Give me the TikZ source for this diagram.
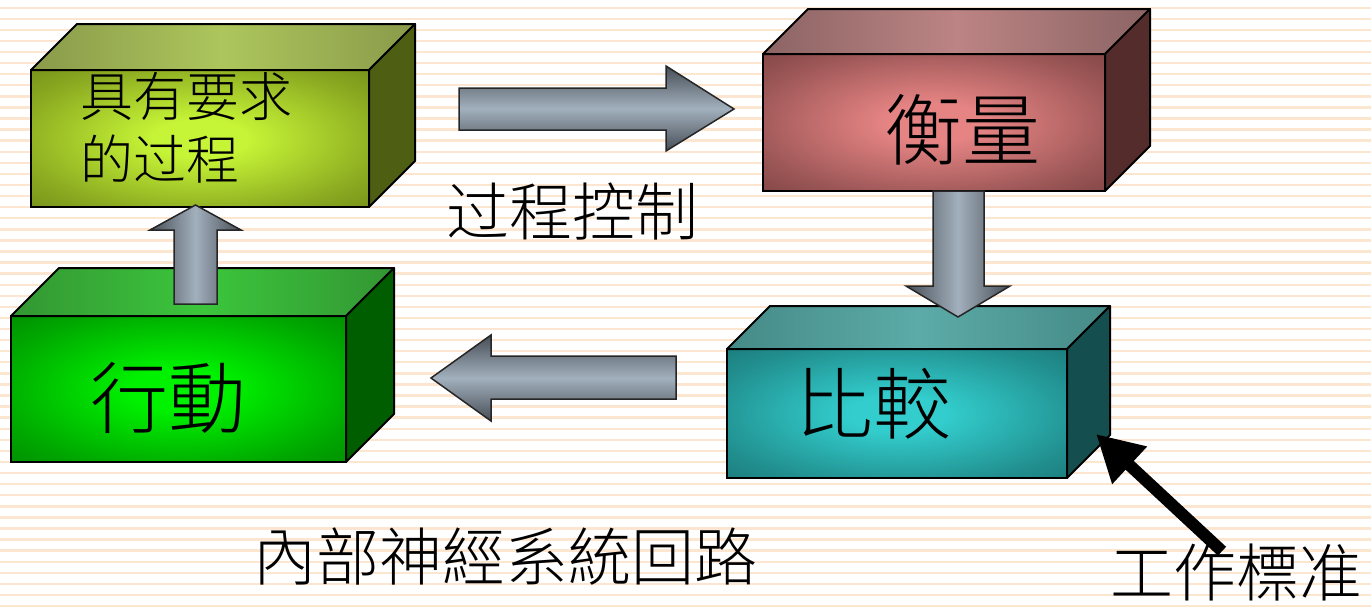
\documentclass[tikz,border=0pt]{standalone}
\usepackage{fontspec}
\newfontfamily\cjk[UprightFont={* Light}]{Noto Sans CJK TC}
\usetikzlibrary{arrows.meta}

\definecolor{stripecol}{HTML}{FDE6CF}
\definecolor{arrowdark}{HTML}{474E56}
\definecolor{arrowlight}{HTML}{A2B0BD}
% box colours: front outer, front inner, top, top light, side
\definecolor{oliveout}{HTML}{627612}
\definecolor{olivein}{HTML}{C6F436}
\definecolor{olivetop}{HTML}{8A9A4A}
\definecolor{olivetopl}{HTML}{ADC65C}
\definecolor{oliveside}{HTML}{4E5F13}
\definecolor{greenout}{HTML}{007400}
\definecolor{greenin}{HTML}{00F200}
\definecolor{greentop}{HTML}{339633}
\definecolor{greentopl}{HTML}{3CC63C}
\definecolor{greenside}{HTML}{005E00}
\definecolor{redout}{HTML}{683636}
\definecolor{redin}{HTML}{E68484}
\definecolor{redtop}{HTML}{8C6464}
\definecolor{redtopl}{HTML}{BC8484}
\definecolor{redside}{HTML}{552C2C}
\definecolor{tealout}{HTML}{166666}
\definecolor{tealin}{HTML}{33CDCD}
\definecolor{tealtop}{HTML}{458A87}
\definecolor{tealtopl}{HTML}{5CABA8}
\definecolor{tealside}{HTML}{154E4E}

% glow of a front face, wide bright centre
\colorlet{boxin}{white}
\colorlet{boxout}{black}
\pgfdeclareradialshading[boxin,boxout]{boxglow}{\pgfpoint{0bp}{0bp}}{%
  color(0bp)=(boxin); color(7bp)=(boxin);
  color(28bp)=(boxin!40!boxout); color(46bp)=(boxout); color(70bp)=(boxout)}

% top and right faces of a box, from the front node
\newcommand{\cubefaces}[5]{%
  \draw[face, left color=#3, right color=#3, middle color=#4]
    (#1.north west) -- ++(#2,-#2) -- ([shift={(#2,-#2)}]#1.north east)
    -- (#1.north east) -- cycle;
  \draw[face, fill=#5]
    (#1.north east) -- ++(#2,-#2) -- ([shift={(#2,-#2)}]#1.south east)
    -- (#1.south east) -- cycle;
}

\begin{document}
\begin{tikzpicture}[x=1pt, y=-1pt,
    front/.style 2 args={draw, line width=2pt, outer sep=0pt, inner sep=0pt,
      /utils/exec={\colorlet{boxin}{#1}\colorlet{boxout}{#2}}, shading=boxglow},
    face/.style={draw, line width=2pt, line join=round},
    blockarrow/.style={draw=black!85, line width=1.5pt, top color=arrowdark,
      bottom color=arrowdark, middle color=arrowlight},
    boxtext/.style={font=\cjk\fontsize{78}{80}\selectfont, inner sep=0pt},
    labeltext/.style={font=\cjk\fontsize{63}{70}\selectfont, inner sep=0pt}]

    \useasboundingbox (0,0) rectangle (1371,606);
    \fill[white] (0,0) rectangle (1371,606);
    \foreach \i in {0,...,54}
        \draw[stripecol, line width=2.4pt] (0,{7.7+11.08*\i}) -- (1371,{7.7+11.08*\i});

    % boxes
    \node (proc) at (200,138.5) [front={olivein}{oliveout},
        minimum width=338, minimum height=137] {};
    \cubefaces{proc}{46}{olivetop}{olivetopl}{oliveside}
    \node (act) at (178.5,389) [front={greenin}{greenout},
        minimum width=335, minimum height=146] {};
    \cubefaces{act}{48}{greentop}{greentopl}{greenside}
    \node (meas) at (934,122.5) [front={redin}{redout},
        minimum width=342, minimum height=137] {};
    \cubefaces{meas}{45}{redtop}{redtopl}{redside}
    \node (cmp) at (897,413.5) [front={tealin}{tealout},
        minimum width=340, minimum height=129] {};
    \cubefaces{cmp}{43}{tealtop}{tealtopl}{tealside}

    % box texts
    \node (proctext) at (80,72) [anchor=north west, align=left, inner sep=0pt,
        font=\cjk\fontsize{53}{63}\selectfont] {具有要求\\的过程};
    \node (acttext) at (168,398) [boxtext] {行動};
    \node (meastext) at (962,130) [boxtext] {衡量};
    \node (cmptext) at (873,404) [boxtext] {比較};

    % block arrows
    \draw[blockarrow] (459,88) -- (666,88) -- (666,66) -- (734,109)
        -- (666,151) -- (666,130) -- (459,130) -- cycle;
    \draw[blockarrow, shading angle=90] (174,304) -- (174,230) -- (150,230)
        -- (195.5,205) -- (241,230) -- (217,230) -- (217,304) -- cycle;
    \draw[blockarrow, shading angle=90] (933,191) -- (984,191) -- (984,286)
        -- (1010,286) -- (958,317) -- (906,286) -- (933,286) -- cycle;
    \draw[blockarrow] (676,356) -- (491,356) -- (491,335) -- (431,378)
        -- (491,421) -- (491,399) -- (676,399) -- cycle;

    % labels
    \node (ctrl) at (572,212) [labeltext] {过程控制};
    \node (loop) at (505,557) [labeltext] {內部神經系統回路};
    \node (std) at (1236,573) [labeltext] {工作標准};

    \coordinate (stdtip) at (1096,434);
    \draw[line width=12pt, -{Triangle[length=46pt, width=48pt]}]
        ([shift={(-14,7)}]std.north) -- (stdtip);
\end{tikzpicture}
\end{document}
